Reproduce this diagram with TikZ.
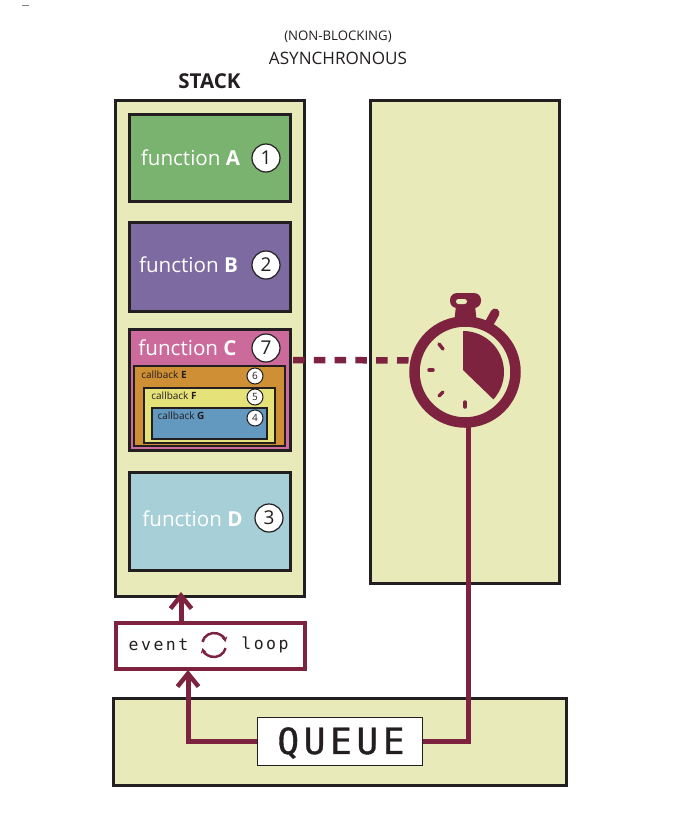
\documentclass[tikz,border=0pt]{standalone}
\usepackage{fontspec}
\setmainfont{Open Sans}
\newfontfamily\loopfont[LetterSpace=15]{DejaVu Sans Mono}
\newfontfamily\queuefont[LetterSpace=13,FakeBold=1]{DejaVu Sans Mono}
\usetikzlibrary{arrows.meta}
\definecolor{panelc}{HTML}{E8EBB9}
\definecolor{wine}{HTML}{7D2340}
\definecolor{ink}{HTML}{231F20}
\definecolor{funcAc}{HTML}{7AB26F}
\definecolor{funcBc}{HTML}{7C6AA0}
\definecolor{funcCc}{HTML}{CC6A9C}
\definecolor{funcDc}{HTML}{A6CFD8}
\definecolor{cbEc}{HTML}{CF8F35}
\definecolor{cbFc}{HTML}{E5E27A}
\definecolor{cbGc}{HTML}{6398BF}
\tikzset{
    panel/.style={shape=rectangle,draw=ink,fill=panelc,line width=3},
    funcbox/.style={shape=rectangle,draw=ink,line width=3},
    cbbox/.style={shape=rectangle,draw=ink,line width=1.6},
    funclabel/.style={text=white,font=\fontsize{20.6}{24}\selectfont},
    cblabel/.style={text=ink,inner sep=0,font=\fontsize{10}{12}\selectfont},
    bignum/.style={shape=circle,draw=ink,fill=white,line width=1.2,minimum size=28,inner sep=0,text=ink,font=\fontsize{19}{22}\selectfont},
    smallnum/.style={shape=circle,draw=ink,fill=white,line width=1,minimum size=16,inner sep=0,text=ink,font=\fontsize{10}{12}\selectfont},
    route/.style={draw=wine,line width=5},
    barb/.style={route,-{Straight Barb[length=13,width=21,line width=4.5]}}
}
\begin{document}
\begin{tikzpicture}[x=1pt,y=-1pt]
        \useasboundingbox (0,0) rectangle (673,825);
        \draw[gray,line width=0.8] (22,5) -- (29,5);
        % titles
        \node[text=ink,font=\fontsize{13.2}{16}\selectfont] (nonblocking) at (338,37){(NON-BLOCKING)};
        \node[text=ink,font=\fontsize{17.1}{20}\selectfont] (asynchronous) at (338,58){ASYNCHRONOUS};
        \node[text=ink,font=\fontsize{20.5}{24}\selectfont\bfseries] (stacktitle) at (209.5,81){STACK};
        % panels
        \node[panel,minimum width=189,minimum height=496] (stack) at (210,348.5){};
        \node[panel,minimum width=189,minimum height=483] (webapi) at (465,342){};
        \node[panel,minimum width=453,minimum height=87] (queuepanel) at (340,742){};
        % functions
        \node[funcbox,fill=funcAc,minimum width=161,minimum height=87] (funcA) at (210,158){};
        \node[funcbox,fill=funcBc,minimum width=161,minimum height=89] (funcB) at (210,266.5){};
        \node[funcbox,fill=funcCc,minimum width=161,minimum height=121] (funcC) at (210,390){};
        \node[funcbox,fill=funcDc,minimum width=161,minimum height=98] (funcD) at (210,521.5){};
        \node[funclabel] (labelA) at (190.5,158){function \textbf{A}};
        \node[funclabel] (labelB) at (188.5,265){function \textbf{B}};
        \node[funclabel] (labelC) at (187.5,348){function \textbf{C}};
        \node[funclabel] (labelD) at (192.5,519){function \textbf{D}};
        \node[bignum] (numA) at (266,158){1};
        \node[bignum] (numB) at (266,265){2};
        \node[bignum] (numC) at (266,348){7};
        \node[bignum] (numD) at (269,518){3};
        % callbacks
        \node[cbbox,fill=cbEc,minimum width=151,minimum height=80] (cbE) at (209.5,406){};
        \node[cbbox,fill=cbFc,minimum width=131,minimum height=55] (cbF) at (209.5,415.5){};
        \node[cbbox,fill=cbGc,minimum width=115,minimum height=31] (cbG) at (209.5,423.5){};
        \node[cblabel] (labelE) at (164,374.5){callback \textbf{E}};
        \node[cblabel] (labelF) at (174,395.5){callback \textbf{F}};
        \node[cblabel] (labelG) at (181,415.5){callback \textbf{G}};
        \node[smallnum] (numE) at (255,376){6};
        \node[smallnum] (numF) at (255,397){5};
        \node[smallnum] (numG) at (255,418){4};
        % timer
        \fill[wine,rounded corners=7] (450,293) rectangle (481,308);
        \fill[wine] (456,305) -- (475,305) -- (477,325) -- (454,325) -- cycle;
        \fill[panelc,rounded corners=2.5] (456,299) rectangle (467,304);
        \draw[wine,line width=9,line cap=round] (490,322) -- (495,313);
        \node[shape=circle,draw=wine,fill=panelc,line width=10.5,minimum size=101,inner sep=0] (timer) at (465,372){};
        \fill[wine] (463,370) -- (463,331) arc[start angle=90,end angle=-42,radius=41pt] -- cycle;
        \draw[wine,line width=3.5,line cap=round] (439,344) -- (443,349);
        \draw[wine,line width=3.5,line cap=round] (429,370) -- (433,370);
        \draw[wine,line width=3.5,line cap=round] (439,396) -- (443,392);
        \draw[wine,line width=3.5,line cap=round] (465,402) -- (465,407);
        % event loop and queue
        \node[shape=rectangle,draw=wine,fill=white,line width=4,minimum width=189,minimum height=46] (evloop) at (210.5,645.5){};
        \node[text=ink,font=\loopfont\fontsize{16.5}{20}\selectfont] (evtext) at (158.5,645){event};
        \node[text=ink,font=\loopfont\fontsize{16.5}{20}\selectfont] (looptext) at (265,645){loop};
        \coordinate (loopicon) at (214,645);
        \draw[wine,line width=2.5,-{Stealth[length=5,width=6]}] (loopicon) ++(165:12pt) arc[start angle=165,end angle=15,radius=12pt];
        \draw[wine,line width=2.5,-{Stealth[length=5,width=6]}] (loopicon) ++(-15:12pt) arc[start angle=-15,end angle=-165,radius=12pt];
        \node[shape=rectangle,draw=ink,fill=white,line width=1.2,minimum width=165,minimum height=48] (queue) at (340,741.5){};
        \node[text=ink,font=\queuefont\fontsize{36}{40}\selectfont] (queuetext) at (341,743){QUEUE};
        % connectors
        \coordinate (dashfrom) at (293,360);
        \coordinate (stackin) at (181,592);
        \coordinate (loopout) at (181,621);
        \coordinate (loopin) at (188,670);
        \coordinate (timerout) at (468,427);
        \path [route,line width=6.5,dash pattern=on 11.5 off 9.3](dashfrom) edge (timer.168);
        \draw [barb](loopout) -- (stackin);
        \draw [barb](queue.west) -| (loopin);
        \draw [route,line join=miter](queue.east) -| (timerout);
    \end{tikzpicture}
\end{document}
